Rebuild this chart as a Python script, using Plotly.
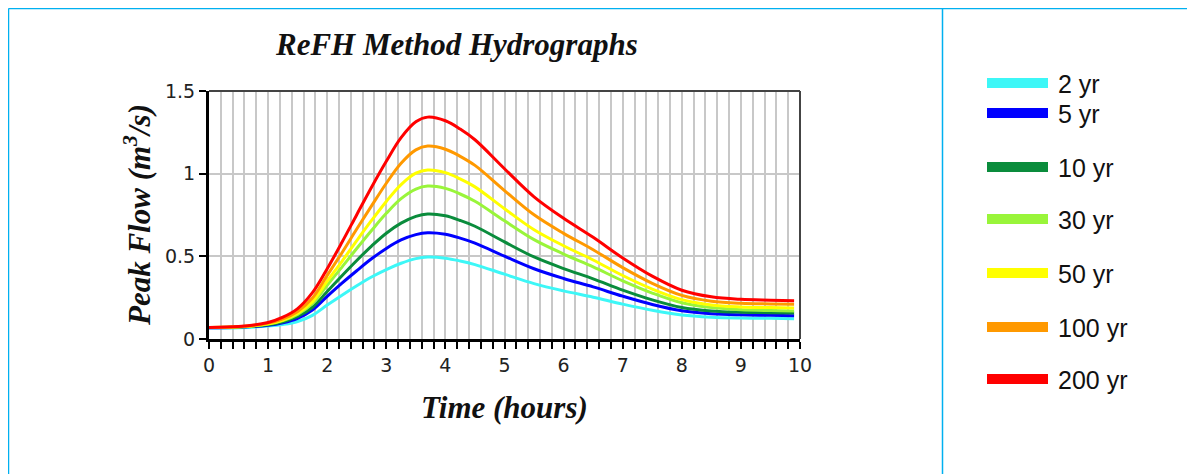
import plotly.graph_objects as go

# ---------------- data ----------------
times = [0, 0.5, 1, 1.25, 1.5, 1.75, 2, 2.25, 2.5, 2.75, 3, 3.25, 3.5, 3.7, 4, 4.25, 4.5,
         5, 5.5, 6, 6.5, 7, 7.5, 8, 8.5, 9, 9.5, 9.9]

names = ["2 yr", "5 yr", "10 yr", "30 yr", "50 yr", "100 yr", "200 yr"]

q_2yr   = [0.066, 0.068, 0.078, 0.088, 0.106, 0.143, 0.205, 0.265, 0.322, 0.375, 0.420, 0.458, 0.486, 0.496, 0.489, 0.472, 0.450,
           0.392, 0.335, 0.291, 0.253, 0.211, 0.174, 0.145, 0.132, 0.127, 0.125, 0.122]
q_5yr   = [0.068, 0.071, 0.083, 0.098, 0.125, 0.175, 0.258, 0.338, 0.413, 0.485, 0.548, 0.599, 0.631, 0.642, 0.633, 0.610, 0.580,
           0.501, 0.425, 0.366, 0.315, 0.259, 0.209, 0.171, 0.153, 0.146, 0.143, 0.140]
q_10yr  = [0.070, 0.073, 0.086, 0.104, 0.136, 0.192, 0.287, 0.383, 0.475, 0.562, 0.640, 0.701, 0.742, 0.756, 0.745, 0.717, 0.682,
           0.587, 0.496, 0.426, 0.364, 0.296, 0.237, 0.191, 0.170, 0.162, 0.159, 0.157]
q_30yr  = [0.070, 0.073, 0.090, 0.111, 0.149, 0.213, 0.325, 0.435, 0.547, 0.656, 0.760, 0.849, 0.907, 0.925, 0.911, 0.877, 0.833,
           0.715, 0.601, 0.514, 0.436, 0.352, 0.278, 0.219, 0.190, 0.177, 0.172, 0.170]
q_50yr  = [0.070, 0.074, 0.092, 0.115, 0.156, 0.226, 0.350, 0.470, 0.595, 0.717, 0.832, 0.934, 1.003, 1.022, 1.006, 0.968, 0.920,
           0.788, 0.661, 0.564, 0.478, 0.384, 0.302, 0.238, 0.206, 0.194, 0.190, 0.188]
q_100yr = [0.070, 0.074, 0.096, 0.122, 0.167, 0.248, 0.385, 0.522, 0.665, 0.805, 0.942, 1.063, 1.144, 1.167, 1.148, 1.105, 1.050,
           0.898, 0.751, 0.639, 0.540, 0.432, 0.337, 0.264, 0.229, 0.216, 0.212, 0.210]
q_200yr = [0.070, 0.075, 0.100, 0.132, 0.184, 0.280, 0.425, 0.585, 0.752, 0.918, 1.075, 1.218, 1.314, 1.342, 1.320, 1.270, 1.205,
           1.030, 0.860, 0.730, 0.615, 0.490, 0.380, 0.295, 0.255, 0.240, 0.235, 0.232]

series = [q_2yr, q_5yr, q_10yr, q_30yr, q_50yr, q_100yr, q_200yr]
colors = ["#3DF7F7", "#0000FF", "#0A8C3C", "#99F53A", "#FFFF00", "#FF9900", "#FF0000"]

x_tick_vals = [0, 1, 2, 3, 4, 5, 6, 7, 8, 9, 10]
x_tick_text = ["0", "1", "2", "3", "4", "5", "6", "7", "8", "9", "10"]
y_tick_vals = [0, 0.5, 1, 1.5]
y_tick_text = ["0", "0.5", "1", "1.5"]

# legend vertical positions (screen pixel rows of the swatches in the reference)
legend_rows = [83, 113, 167, 219, 273, 327, 379]

# ---------------- geometry (screen pixels; page body has an 8px margin) ----------------
OFF = 8
W, H = 1195, 474
L, R, T, B = 209 - OFF, 800 - OFF, 91 - OFF, 339 - OFF


def px(xs):
    return (xs - OFF - L) / (R - L)


def py(ys):
    return 1 - (ys - OFF - T) / (B - T)


fig = go.Figure()
for name, vals, col in zip(names, series, colors):
    fig.add_trace(go.Scatter(x=times, y=vals, name=name, mode="lines",
                             line=dict(color=col, width=3, shape="spline", smoothing=1.0),
                             showlegend=False))

tick_font = dict(family="DejaVu Sans", size=19, color="#222222")
fig.update_layout(
    width=W, height=H,
    margin=dict(l=L, r=W - R, t=T, b=H - B),
    paper_bgcolor="white", plot_bgcolor="white",
    xaxis=dict(range=[0, 10], tickmode="array", tickvals=x_tick_vals, ticktext=x_tick_text,
               showgrid=True, gridcolor="#C8C8C8", gridwidth=1.5,
               ticks="outside", ticklen=7, tickwidth=2, tickcolor="black",
               showline=True, linecolor="black", linewidth=3,
               minor=dict(dtick=0.2, showgrid=True, gridcolor="#C8C8C8", gridwidth=1.5,
                          ticks="outside", ticklen=7, tickwidth=2, tickcolor="black"),
               tickfont=tick_font, zeroline=False),
    yaxis=dict(range=[0, 1.5], tickmode="array", tickvals=y_tick_vals, ticktext=y_tick_text,
               showgrid=True, gridcolor="#C8C8C8", gridwidth=1.5,
               ticks="outside", ticklen=7, tickwidth=2, tickcolor="black",
               showline=True, linecolor="black", linewidth=3,
               tickfont=tick_font, zeroline=False),
)

serif_bi = dict(family="Liberation Serif", size=31, color="#111111", style="italic", weight="bold")

annotations = [
    dict(text="ReFH Method Hydrographs", x=px(456), y=py(44), xref="paper", yref="paper",
         showarrow=False, xanchor="center", yanchor="middle", font=serif_bi),
    dict(text="Time (hours)", x=px(504), y=py(407), xref="paper", yref="paper",
         showarrow=False, xanchor="center", yanchor="middle", font=serif_bi),
    dict(text="Peak Flow (m<sup>3</sup>/s)", x=px(137), y=py(215), xref="paper", yref="paper",
         showarrow=False, xanchor="center", yanchor="middle", textangle=-90, font=serif_bi),
]

shapes = [
    # plot frame (top & right)
    dict(type="line", xref="paper", yref="paper", x0=0, x1=1, y0=1, y1=1,
         line=dict(color="#444444", width=2)),
    dict(type="line", xref="paper", yref="paper", x0=1, x1=1, y0=0, y1=1,
         line=dict(color="#444444", width=2)),
    # page borders
    dict(type="line", xref="paper", yref="paper", x0=px(8.5), x1=px(1200), y0=py(8.5), y1=py(8.5),
         line=dict(color="#00B0F0", width=1.5)),
    dict(type="line", xref="paper", yref="paper", x0=px(8.5), x1=px(8.5), y0=py(8.5), y1=py(480),
         line=dict(color="#00B0F0", width=1.5)),
    dict(type="line", xref="paper", yref="paper", x0=px(942.5), x1=px(942.5), y0=py(8.5), y1=py(480),
         line=dict(color="#00B0F0", width=1.5)),
]

for name, col, row in zip(names, colors, legend_rows):
    shapes.append(dict(type="rect", xref="paper", yref="paper",
                       x0=px(987), x1=px(1048), y0=py(row - 5), y1=py(row + 5),
                       fillcolor=col, line=dict(width=0)))
    annotations.append(dict(text=name, x=px(1056), y=py(row + 1), xref="paper", yref="paper",
                            showarrow=False, xanchor="left", yanchor="middle",
                            font=dict(family="Liberation Sans", size=25, color="#111111")))

fig.update_layout(annotations=annotations, shapes=shapes)
fig.write_html("out.html")
